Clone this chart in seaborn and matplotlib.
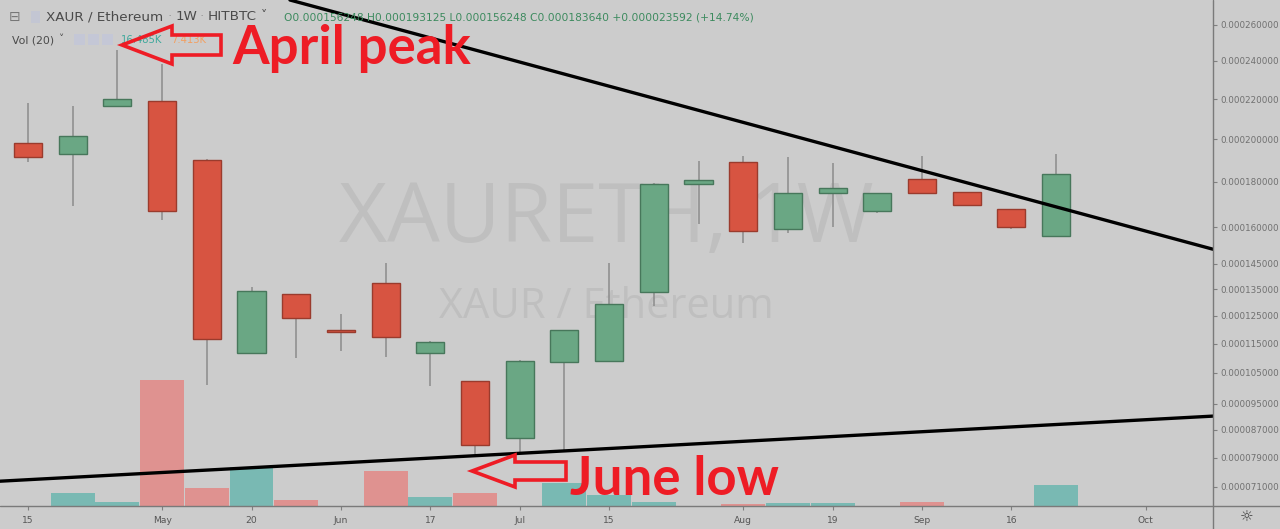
import numpy as np
import pandas as pd
import matplotlib
matplotlib.use("Agg")
import matplotlib.pyplot as plt
from matplotlib.patches import Polygon, Rectangle
from matplotlib.lines import Line2D
import seaborn as sns

# XAUR / Ethereum, weekly candles on HitBTC (prices in 1e-6 ETH)
week_start = pd.date_range("2019-04-15", periods=24, freq="W-MON")
opens = [198.0, 192.9, 216.3, 219.1, 190.1, 111.8, 133.2, 119.8, 137.3, 111.6, 102.3, 84.6,
         108.7, 109.1, 133.8, 178.9, 189.2, 159.4, 174.8, 167.2, 181.3, 175.3, 168.0, 156.248]
highs = [217.8, 216.5, 245.9, 238.2, 190.5, 136.0, 133.2, 125.7, 145.2, 116.0, 102.3, 109.2,
         119.8, 145.2, 179.6, 189.8, 192.0, 191.7, 188.9, 174.8, 192.0, 175.3, 168.0, 193.125]
lows = [189.3, 169.2, 216.3, 163.2, 101.0, 111.8, 109.9, 112.4, 110.2, 100.7, 79.9, 80.7,
        81.1, 109.1, 128.7, 161.4, 153.3, 157.5, 160.0, 166.0, 174.8, 169.7, 159.4, 156.248]
closes = [191.7, 201.6, 219.9, 167.2, 116.5, 134.2, 124.3, 119.0, 117.2, 115.7, 82.5, 108.9,
          119.8, 129.4, 178.9, 180.9, 158.5, 174.8, 177.2, 174.8, 174.8, 169.7, 160.2, 183.640]
volume_k = [0, 10.1, 2.9, 100.1, 14.1, 30.8, 4.5, 0, 27.6, 6.9, 10.1, 0,
            18.1, 8.5, 2.9, 0, 1.4, 2.1, 2.1, 0, 2.9, 0, 0, 16.485]

price_ticks = [260, 240, 220, 200, 180, 160, 145, 135, 125, 115, 105, 95, 87, 79, 71]
date_tick_bars = [0, 3, 5, 7, 9, 11, 13, 16, 18, 20, 22, 25]
date_tick_labels = ["15", "May", "20", "Jun", "17", "Jul", "15", "Aug", "19", "Sep", "16", "Oct"]

# hand-drawn trend lines: (bar index, price) end points
resistance_bars = [5.86, 26.51]
resistance_prices = [274.0, 150.9]
support_bars = [-0.63, 26.51]
support_prices = [72.5, 91.2]

SCALE = 1e-6
BG = "#cccccc"
UP_FILL, UP_EDGE = "#6aa784", "#47775b"
DN_FILL, DN_EDGE = "#d75441", "#9a3b2d"
WICK = "#8c8c8c"
VOL_UP, VOL_DN = "#79b9b3", "#df9290"
ANNOT = "#ee1c25"
AXIS_TXT = "#707070"

sns.set_theme(style="white", rc={"axes.facecolor": BG, "figure.facecolor": BG})
plt.rcParams["font.family"] = ["DejaVu Sans"]

W, H = 1280, 529
PLOT_R, PLOT_B = 1213, 505.7


def fx(px):
    return px / W


def fy(py):
    return 1 - py / H


fig = plt.figure(figsize=(W / 100, H / 100), dpi=100)
fig.patch.set_facecolor(BG)
pos = [0, fy(PLOT_B), fx(PLOT_R), PLOT_B / H]

x = np.arange(len(opens))
o = np.array(opens) * SCALE
h = np.array(highs) * SCALE
l = np.array(lows) * SCALE
c = np.array(closes) * SCALE
up = c >= o
xlim = (-0.6264, 26.51)

# volume pane underneath the price pane
ax_v = fig.add_axes(pos)
vol_df = pd.DataFrame({"bar": x, "volume": volume_k, "side": np.where(up, "up", "down")})
sns.barplot(data=vol_df, x="bar", y="volume", hue="side",
            palette={"up": VOL_UP, "down": VOL_DN}, dodge=False, native_scale=True,
            width=0.98, saturation=1, errorbar=None, legend=False, linewidth=0, ax=ax_v)
ax_v.set_xlim(*xlim)
ax_v.set_ylim(0, max(volume_k) * 4.02)
ax_v.set_axis_off()

# price pane
ax = fig.add_axes(pos)
ax.set_facecolor("none")
ax.set_yscale("function",
              functions=(lambda v: np.power(np.clip(v, 1e-12, None), 0.42),
                         lambda u: np.power(np.clip(u, 0, None), 1 / 0.42)))
ax.set_xlim(*xlim)
ax.set_ylim(66.1e-6, 274.0e-6)

ax.text(0.5, 0.5215, "XAURETH, 1W", transform=ax.transAxes, ha="center", va="baseline",
        fontsize=60, color="#bfbfbf", family=["Open Sans", "DejaVu Sans"], zorder=0)
ax.text(0.5, 0.3706, "XAUR / Ethereum", transform=ax.transAxes, ha="center", va="baseline",
        fontsize=30, color="#bfbfbf", family=["Open Sans", "DejaVu Sans"], zorder=0)

ax.vlines(x, l, h, colors=WICK, lw=1.1, zorder=2)
ax.bar(x, np.abs(c - o), bottom=np.minimum(o, c), width=0.63,
       color=np.where(up, UP_FILL, DN_FILL), edgecolor=np.where(up, UP_EDGE, DN_EDGE),
       linewidth=1.0, zorder=3)

ax.plot(resistance_bars, np.array(resistance_prices) * SCALE, color="black", lw=2.4, zorder=4)
ax.plot(support_bars, np.array(support_prices) * SCALE, color="black", lw=2.4, zorder=4)

ax.yaxis.tick_right()
ax.set_yticks(np.array(price_ticks) * SCALE)
ax.set_yticklabels([f"{v * SCALE:.9f}" for v in price_ticks])
ax.yaxis.set_minor_locator(matplotlib.ticker.NullLocator())
ax.set_xticks(date_tick_bars)
ax.set_xticklabels(date_tick_labels)
ax.tick_params(axis="y", which="major", right=True, left=False, direction="out",
               length=2.9, width=0.8, color="#808080", pad=2.3,
               labelsize=6.3, labelcolor=AXIS_TXT)
ax.tick_params(axis="x", which="major", bottom=True, direction="out",
               length=2.9, width=0.8, color="#808080", pad=4.2,
               labelsize=6.6, labelcolor="#555555")
for sp in ax.spines.values():
    sp.set_visible(False)
ax.set_xlabel("")
ax.set_ylabel("")

# pane separators
fig.add_artist(Line2D([0, 1], [fy(PLOT_B)] * 2, transform=fig.transFigure, color="#7a7a7a", lw=1))
fig.add_artist(Line2D([fx(PLOT_R)] * 2, [0, 1], transform=fig.transFigure, color="#7a7a7a", lw=1))
fig.text(fx(1247), fy(517), "☼", ha="center", va="center", fontsize=11, color="#404040")

# legend header
fig.text(fx(9), fy(17), "⊟", ha="left", va="center", fontsize=10, color="#777777")
fig.add_artist(Rectangle((fx(31), fy(23)), fx(9), 12 / H, transform=fig.transFigure,
                         facecolor="#c3c6d3", edgecolor="none"))
fig.text(fx(46), fy(17), "XAUR / Ethereum", ha="left", va="center", fontsize=9.7, color="#4a4a4a")
fig.text(fx(170), fy(17), "·", ha="center", va="center", fontsize=9.7, color="#9a9a9a")
fig.text(fx(176), fy(17), "1W", ha="left", va="center", fontsize=9.7, color="#4a4a4a")
fig.text(fx(202), fy(17), "·", ha="center", va="center", fontsize=9.7, color="#9a9a9a")
fig.text(fx(208), fy(17), "HITBTC", ha="left", va="center", fontsize=9.7, color="#4a4a4a")
fig.text(fx(261), fy(16), "˅", ha="left", va="center", fontsize=9, color="#4a4a4a")
fig.text(fx(284), fy(18),
         "O0.000156248 H0.000193125 L0.000156248 C0.000183640 +0.000023592 (+14.74%)",
         ha="left", va="center", fontsize=7.7, color="#3c8a5e")

fig.text(fx(12), fy(40), "Vol (20)", ha="left", va="center", fontsize=7.8, color="#4a4a4a")
fig.text(fx(58), fy(39), "˅", ha="left", va="center", fontsize=7.5, color="#4a4a4a")
for ix in (74, 88, 102):
    fig.add_artist(Rectangle((fx(ix), fy(45)), fx(11), 11 / H, transform=fig.transFigure,
                             facecolor="#c4c7d6", edgecolor="none"))
fig.text(fx(121), fy(40), "16.485K", ha="left", va="center", fontsize=7.2, color="#3fa89c")
fig.text(fx(171), fy(40), "7.413K", ha="left", va="center", fontsize=7.2, color="#f2a062")


def hollow_arrow(tip_x, tip_y, head_len, head_half, shaft_half, total_len):
    pts = [(tip_x, tip_y), (tip_x + head_len, tip_y - head_half),
           (tip_x + head_len, tip_y - shaft_half), (tip_x + total_len, tip_y - shaft_half),
           (tip_x + total_len, tip_y + shaft_half), (tip_x + head_len, tip_y + shaft_half),
           (tip_x + head_len, tip_y + head_half)]
    return Polygon([(fx(a), fy(b)) for a, b in pts], closed=True, transform=fig.transFigure,
                   facecolor="none", edgecolor=ANNOT, lw=2.6, joinstyle="miter", zorder=6)


fig.add_artist(hollow_arrow(122, 45, 50, 19, 10, 99))
fig.add_artist(hollow_arrow(472, 471, 43, 16, 9, 94))
fig.text(fx(232), fy(64), "April peak", ha="left", va="baseline", fontsize=38,
         fontweight="bold", color=ANNOT, family=["Lato", "DejaVu Sans"])
fig.text(fx(570), fy(495), "June low", ha="left", va="baseline", fontsize=38,
         fontweight="bold", color=ANNOT, family=["Lato", "DejaVu Sans"])

fig.savefig("out.png", dpi=100, facecolor=BG)
